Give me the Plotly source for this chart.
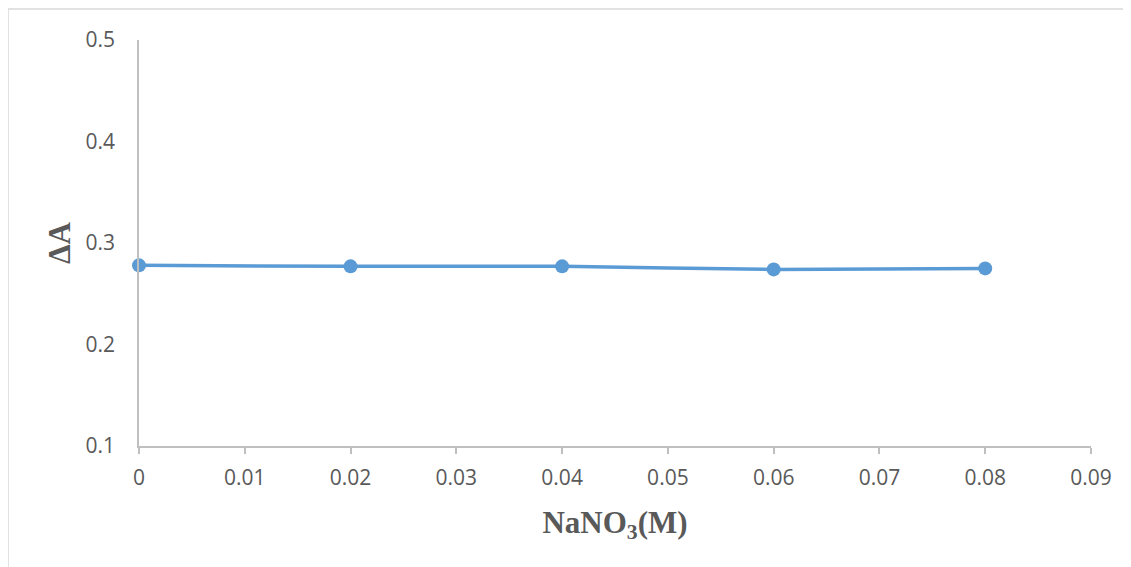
import plotly.graph_objects as go

x_vals = [0, 0.02, 0.04, 0.06, 0.08]
y_vals = [0.278, 0.277, 0.277, 0.274, 0.275]
x_ticks = [0, 0.01, 0.02, 0.03, 0.04, 0.05, 0.06, 0.07, 0.08, 0.09]
x_ticklabels = ["0", "0.01", "0.02", "0.03", "0.04", "0.05", "0.06", "0.07", "0.08", "0.09"]
y_ticks = [0.1, 0.2, 0.3, 0.4, 0.5]
y_ticklabels = ["0.1", "0.2", "0.3", "0.4", "0.5"]

color = "#5B9BD5"
fig = go.Figure()
fig.add_trace(go.Scatter(
    x=x_vals, y=y_vals, mode="lines+markers",
    line=dict(color=color, width=3.5, shape="spline", smoothing=0.6),
    marker=dict(color=color, size=14),
    showlegend=False, cliponaxis=False,
))

tickfont = dict(family="Open Sans, Lato, sans-serif", size=21, color="#595959")
titlefont = dict(family="Liberation Serif, Times New Roman, serif", size=31, color="#595959", weight="bold")
fig.update_layout(
    width=1131, height=567,
    margin=dict(l=131, r=48, t=32, b=129),
    paper_bgcolor="white", plot_bgcolor="white",
    xaxis=dict(
        range=[0, 0.09], tickvals=x_ticks, ticktext=x_ticklabels,
        showgrid=False, zeroline=False, showline=True, linecolor="#BFBFBF", linewidth=1.5,
        ticks="outside", ticklen=6, tickcolor="#BFBFBF", tickwidth=1.5,
        ticklabelstandoff=6,
        tickfont=tickfont,
        title=dict(text="NaNO<sub>3</sub>(M)", standoff=21, font=titlefont),
    ),
    yaxis=dict(
        range=[0.1, 0.5], tickvals=y_ticks, ticktext=y_ticklabels,
        showgrid=False, zeroline=False, showline=True, linecolor="#BFBFBF", linewidth=1.5,
        ticks="", ticklabelstandoff=18,
        tickfont=tickfont,
        title=dict(text="ΔA", standoff=6, font=titlefont),
    ),
    shapes=[dict(type="rect", xref="paper", yref="paper",
                 x0=-0.1376, x1=1.1, y0=-0.4, y1=1.0764,
                 line=dict(color="#D9D9D9", width=1.5), layer="below")],
)
fig.write_html("out.html")
